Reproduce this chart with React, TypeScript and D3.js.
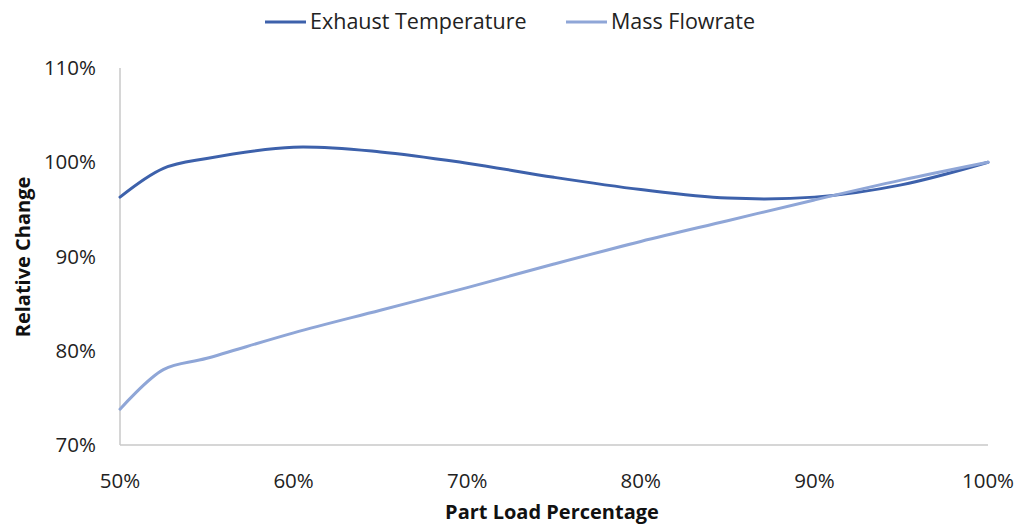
import React from "react";
import * as d3 from "d3";

// Part load points (%)
const loads = [50, 52.5, 55, 60, 65, 70, 75, 80, 85, 90, 95, 100];
// Relative change of each quantity (%) at those loads
const exhaustTemperature = [96.3, 99.35, 100.4, 101.6, 101.1, 99.9, 98.4, 97.1, 96.2, 96.3, 97.6, 100];
const massFlowrate = [73.8, 78.0, 79.2, 81.9, 84.3, 86.7, 89.2, 91.6, 93.8, 96.0, 98.1, 100];

const xTicks = [50, 60, 70, 80, 90, 100];
const yTicks = [70, 80, 90, 100, 110];

const seriesNames = ["Exhaust Temperature", "Mass Flowrate"];
const seriesColors = ["#3D61AB", "#8FA6D7"];

const W = 1019;
const H = 527;
const FONT = "'Open Sans', 'Noto Sans', sans-serif";

export default function App() {
  const x = d3.scaleLinear().domain([50, 100]).range([120, 988]);
  const y = d3.scaleLinear().domain([70, 110]).range([445, 68]);

  const line = d3
    .line<number>()
    .x((_, i) => x(loads[i]))
    .y((d) => y(d))
    .curve(d3.curveCatmullRom.alpha(0.5));

  const series = [exhaustTemperature, massFlowrate];
  const fmt = (v: number) => `${v}%`;

  return (
    <svg
      width={W}
      height={H}
      style={{ position: "absolute", left: 0, top: 0, background: "#fff" }}
      fontFamily={FONT}
    >
      {/* legend */}
      <g>
        <line x1={265} x2={306} y1={22} y2={22} stroke={seriesColors[0]} strokeWidth={3} />
        <text x={310} y={29} fontSize={21.5} fill="#222">
          {seriesNames[0]}
        </text>
        <line x1={566} x2={607} y1={22} y2={22} stroke={seriesColors[1]} strokeWidth={3} />
        <text x={611} y={29} fontSize={21.5} fill="#222">
          {seriesNames[1]}
        </text>
      </g>

      {/* axes */}
      <line x1={120} x2={120} y1={68} y2={445} stroke="#C8C8C8" strokeWidth={1.5} />
      <line x1={120} x2={988} y1={445} y2={445} stroke="#C8C8C8" strokeWidth={1.5} />

      {yTicks.map((t) => (
        <text key={t} x={96} y={y(t) + 7} fontSize={20.5} textAnchor="end" fill="#222">
          {fmt(t)}
        </text>
      ))}
      {xTicks.map((t) => (
        <text key={t} x={x(t)} y={488} fontSize={20.5} textAnchor="middle" fill="#222">
          {fmt(t)}
        </text>
      ))}

      <text x={552} y={519} fontSize={20} fontWeight="bold" textAnchor="middle" fill="#111">
        Part Load Percentage
      </text>
      <text
        transform={`translate(30, 257) rotate(-90)`}
        fontSize={20}
        fontWeight="bold"
        textAnchor="middle"
        fill="#111"
      >
        Relative Change
      </text>

      {/* series */}
      {series.map((s, i) => (
        <path
          key={seriesNames[i]}
          d={line(s) ?? ""}
          fill="none"
          stroke={seriesColors[i]}
          strokeWidth={3}
          strokeLinecap="round"
        />
      ))}
    </svg>
  );
}
